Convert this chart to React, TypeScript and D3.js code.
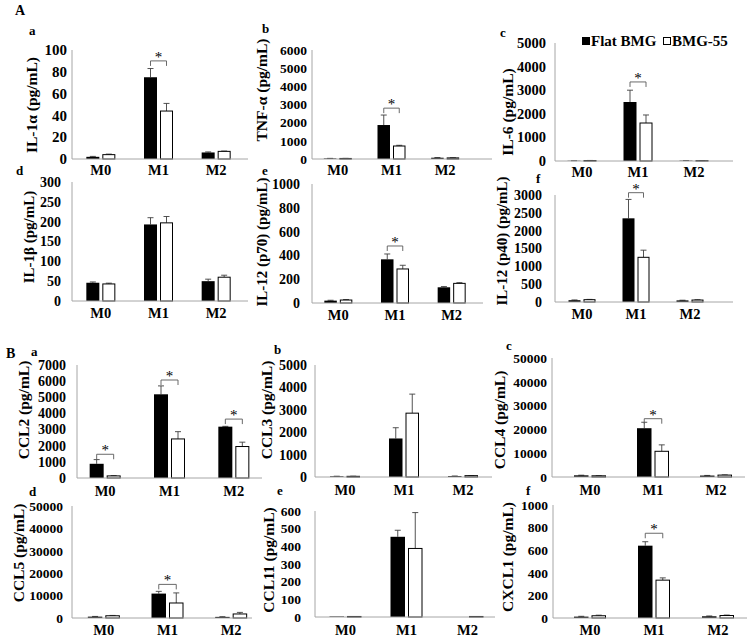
import React from "react";
import * as d3 from "d3";

const categories = ["M0", "M1", "M2"];
const seriesNames = ["Flat BMG", "BMG-55"];

// Panel A
const il1aFlat = [2, 75, 6];
const il1aFlatSd = [0.4, 8, 0.5];
const il1a55 = [4, 44, 7];
const il1a55Sd = [0.5, 7, 0.3];

const tnfFlat = [30, 1870, 70];
const tnfFlatSd = [5, 550, 10];
const tnf55 = [30, 715, 60];
const tnf55Sd = [5, 40, 10];

const il6Flat = [10, 2500, 15];
const il6FlatSd = [2, 500, 3];
const il655 = [20, 1610, 15];
const il655Sd = [3, 340, 3];

const il1bFlat = [46, 193, 50];
const il1bFlatSd = [2, 17, 5];
const il1b55 = [43, 197, 60];
const il1b55Sd = [2, 16, 5];

const il12p70Flat = [20, 367, 132];
const il12p70FlatSd = [3, 45, 6];
const il12p7055 = [25, 286, 165];
const il12p7055Sd = [4, 31, 6];

const il12p40Flat = [50, 2346, 45];
const il12p40FlatSd = [8, 530, 5];
const il12p4055 = [65, 1253, 55];
const il12p4055Sd = [8, 200, 8];

// Panel B
const ccl2Flat = [880, 5185, 3180];
const ccl2FlatSd = [260, 520, 20];
const ccl255 = [130, 2420, 1950];
const ccl255Sd = [20, 450, 270];

const ccl3Flat = [30, 1720, 40];
const ccl3FlatSd = [5, 480, 5];
const ccl355 = [30, 2850, 60];
const ccl355Sd = [5, 850, 5];

const ccl4Flat = [700, 20500, 600];
const ccl4FlatSd = [60, 2500, 60];
const ccl455 = [500, 10800, 800];
const ccl455Sd = [60, 2700, 80];

const ccl5Flat = [600, 10900, 500];
const ccl5FlatSd = [100, 1000, 80];
const ccl555 = [1000, 6700, 1800];
const ccl555Sd = [150, 4500, 700];

const ccl11Flat = [3, 454, 0];
const ccl11FlatSd = [0, 37, 0];
const ccl1155 = [3, 388, 3];
const ccl1155Sd = [0, 203, 0];

const cxcl1Flat = [12, 640, 15];
const cxcl1FlatSd = [3, 35, 3];
const cxcl155 = [20, 335, 22];
const cxcl155Sd = [5, 20, 4];

// significance brackets: [category index, bracket level in data units]
const il1aSig = [[1, 90]];
const tnfSig = [[1, 2800]];
const il6Sig = [[1, 3350]];
const il1bSig: number[][] = [];
const il12p70Sig = [[1, 479]];
const il12p40Sig = [[1, 3065]];
const ccl2Sig = [[0, 1470], [1, 6070], [2, 3650]];
const ccl3Sig: number[][] = [];
const ccl4Sig = [[1, 24500]];
const ccl5Sig = [[1, 15000]];
const ccl11Sig: number[][] = [];
const cxcl1Sig = [[1, 750]];

type Panel = {
  letter: string;
  letterX: number;
  letterY: number;
  title: string;
  titleX: number;
  titleY: number;
  tfs: number;
  max: number;
  step: number;
  flat: number[];
  flatSd: number[];
  b55: number[];
  b55Sd: number[];
  sig: number[][];
  axisX: number;
  tickGap: number;
  yTop: number;
  yZero: number;
  bandL: number;
  bandR: number;
  xEnd: number;
  barW: number;
  fs: number;
  catY: number;
};

const panels: Panel[] = [
  { letter: "a", letterX: 29, letterY: 35, title: "IL-1α (pg/mL)", titleX: 37, titleY: 105, tfs: 15.5, max: 100, step: 20, flat: il1aFlat, flatSd: il1aFlatSd, b55: il1a55, b55Sd: il1a55Sd, sig: il1aSig, axisX: 72, tickGap: 5, yTop: 50, yZero: 159, bandL: 72, bandR: 245, xEnd: 248, barW: 13, fs: 15, catY: 175 },
  { letter: "b", letterX: 262, letterY: 33, title: "TNF-α (pg/mL)", titleX: 267, titleY: 90, tfs: 15.5, max: 6000, step: 1000, flat: tnfFlat, flatSd: tnfFlatSd, b55: tnf55, b55Sd: tnf55Sd, sig: tnfSig, axisX: 312, tickGap: 5, yTop: 50, yZero: 159, bandL: 311, bandR: 472, xEnd: 492, barW: 12.5, fs: 13.5, catY: 175 },
  { letter: "c", letterX: 500, letterY: 37, title: "IL-6 (pg/mL)", titleX: 513, titleY: 112, tfs: 15.5, max: 5000, step: 1000, flat: il6Flat, flatSd: il6FlatSd, b55: il655, b55Sd: il655Sd, sig: il6Sig, axisX: 555, tickGap: 9, yTop: 43, yZero: 161, bandL: 554, bandR: 722, xEnd: 733, barW: 13, fs: 14.5, catY: 177 },
  { letter: "d", letterX: 16, letterY: 175, title: "IL-1β (pg/mL)", titleX: 34, titleY: 237, tfs: 15, max: 300, step: 50, flat: il1bFlat, flatSd: il1bFlatSd, b55: il1b55, b55Sd: il1b55Sd, sig: il1bSig, axisX: 72, tickGap: 11, yTop: 182, yZero: 301, bandL: 72, bandR: 245, xEnd: 248, barW: 13, fs: 14, catY: 318 },
  { letter: "e", letterX: 262, letterY: 175, title: "IL-12 (p70) (pg/mL)", titleX: 267, titleY: 242, tfs: 15, max: 1000, step: 200, flat: il12p70Flat, flatSd: il12p70FlatSd, b55: il12p7055, b55Sd: il12p7055Sd, sig: il12p70Sig, axisX: 312, tickGap: 12, yTop: 184, yZero: 303, bandL: 310, bandR: 480, xEnd: 483, barW: 12.5, fs: 14, catY: 320 },
  { letter: "f", letterX: 536, letterY: 183, title: "IL-12 (p40) (pg/mL)", titleX: 507, titleY: 241, tfs: 15, max: 3000, step: 500, flat: il12p40Flat, flatSd: il12p40FlatSd, b55: il12p4055, b55Sd: il12p4055Sd, sig: il12p40Sig, axisX: 555, tickGap: 13, yTop: 195, yZero: 302, bandL: 555, bandR: 717, xEnd: 733, barW: 12, fs: 14, catY: 319 },
  { letter: "a", letterX: 31, letterY: 356, title: "CCL2 (pg/mL)", titleX: 29, titleY: 410, tfs: 15.5, max: 7000, step: 1000, flat: ccl2Flat, flatSd: ccl2FlatSd, b55: ccl255, b55Sd: ccl255Sd, sig: ccl2Sig, axisX: 77, tickGap: 11, yTop: 365, yZero: 478, bandL: 73, bandR: 266, xEnd: 262, barW: 14, fs: 14, catY: 496 },
  { letter: "b", letterX: 274, letterY: 354, title: "CCL3 (pg/mL)", titleX: 272, titleY: 410, tfs: 15.5, max: 5000, step: 1000, flat: ccl3Flat, flatSd: ccl3FlatSd, b55: ccl355, b55Sd: ccl355Sd, sig: ccl3Sig, axisX: 315, tickGap: 8, yTop: 365, yZero: 477, bandL: 315.5, bandR: 492.5, xEnd: 492, barW: 13.5, fs: 14, catY: 495 },
  { letter: "c", letterX: 506, letterY: 350, title: "CCL4 (pg/mL)", titleX: 505, titleY: 420, tfs: 15.5, max: 50000, step: 10000, flat: ccl4Flat, flatSd: ccl4FlatSd, b55: ccl455, b55Sd: ccl455Sd, sig: ccl4Sig, axisX: 552, tickGap: 5, yTop: 358, yZero: 477, bandL: 558.5, bandR: 747.5, xEnd: 745, barW: 14.5, fs: 13.5, catY: 495 },
  { letter: "d", letterX: 29, letterY: 496, title: "CCL5 (pg/mL)", titleX: 24, titleY: 553, tfs: 15.5, max: 50000, step: 10000, flat: ccl5Flat, flatSd: ccl5FlatSd, b55: ccl555, b55Sd: ccl555Sd, sig: ccl5Sig, axisX: 72, tickGap: 9, yTop: 506, yZero: 618, bandL: 72, bandR: 263, xEnd: 252, barW: 14.5, fs: 13.5, catY: 635 },
  { letter: "e", letterX: 277, letterY: 495, title: "CCL11 (pg/mL)", titleX: 274, titleY: 560, tfs: 15.5, max: 600, step: 100, flat: ccl11Flat, flatSd: ccl11FlatSd, b55: ccl1155, b55Sd: ccl1155Sd, sig: ccl11Sig, axisX: 315, tickGap: 14, yTop: 511, yZero: 617, bandL: 315, bandR: 498, xEnd: 495, barW: 14.5, fs: 13.5, catY: 635 },
  { letter: "f", letterX: 526, letterY: 495, title: "CXCL1 (pg/mL)", titleX: 513, titleY: 557, tfs: 15.5, max: 1000, step: 200, flat: cxcl1Flat, flatSd: cxcl1FlatSd, b55: cxcl155, b55Sd: cxcl155Sd, sig: cxcl1Sig, axisX: 553, tickGap: 5, yTop: 505, yZero: 618, bandL: 558, bandR: 750, xEnd: 747, barW: 14.5, fs: 13.5, catY: 635 },
];

const FONT = "'Liberation Serif', 'Times New Roman', serif";
const AXIS = "#a6a6a6";

function PanelView({ p }: { p: Panel }) {
  const y = d3.scaleLinear().domain([0, p.max]).range([p.yZero, p.yTop]);
  const x = d3.scaleBand<string>().domain(categories).range([p.bandL, p.bandR]);
  const ticks = d3.range(0, p.max + p.step / 2, p.step);
  const gap = 3;
  const bw = x.bandwidth();
  const capW = 3;
  return (
    <g>
      <text x={p.letterX} y={p.letterY} fontSize={13} fontWeight="bold" fontFamily={FONT}>{p.letter}</text>
      <text
        transform={`translate(${p.titleX},${p.titleY}) rotate(-90)`}
        textAnchor="middle"
        fontSize={p.tfs}
        fontWeight="bold"
        fontFamily={FONT}
      >
        {p.title}
      </text>
      {ticks.map((t) => (
        <text key={t} x={p.axisX - p.tickGap} y={y(t)} dy="0.35em" textAnchor="end" fontSize={p.fs} fontWeight="bold" fontFamily={FONT}>
          {t}
        </text>
      ))}
      <line x1={p.axisX} x2={p.axisX} y1={p.yTop} y2={p.yZero} stroke={AXIS} strokeWidth={1} />
      {categories.map((c, i) => {
        const cx = (x(c) as number) + bw / 2;
        const xb = cx - gap / 2 - p.barW;
        const xw = cx + gap / 2;
        const errs = [
          { x: xb + p.barW / 2, v: p.flat[i], sd: p.flatSd[i] },
          { x: xw + p.barW / 2, v: p.b55[i], sd: p.b55Sd[i] },
        ];
        return (
          <g key={c}>
            {errs.map((e, k) =>
              e.sd > 0 ? (
                <g key={k} stroke="#404040" strokeWidth={0.9}>
                  <line x1={e.x} x2={e.x} y1={y(e.v)} y2={y(e.v + e.sd)} />
                  <line x1={e.x - capW} x2={e.x + capW} y1={y(e.v + e.sd)} y2={y(e.v + e.sd)} />
                </g>
              ) : null
            )}
            <rect x={xb} y={y(p.flat[i])} width={p.barW} height={Math.max(0, p.yZero - y(p.flat[i]))} fill="#000" />
            <rect x={xw + 0.5} y={y(p.b55[i])} width={p.barW - 1} height={Math.max(0, p.yZero - y(p.b55[i]))} fill="#fff" stroke="#000" strokeWidth={1} />
            <text x={cx} y={p.catY} textAnchor="middle" fontSize={14.5} fontWeight="bold" fontFamily={FONT}>
              {c}
            </text>
          </g>
        );
      })}
      <line x1={p.axisX} x2={p.xEnd} y1={p.yZero} y2={p.yZero} stroke={AXIS} strokeWidth={1} />
      {p.sig.map(([ci, lvl], k) => {
        const c = categories[ci];
        const cx = (x(c) as number) + bw / 2;
        const x1 = cx - gap / 2 - p.barW / 2;
        const x2 = cx + gap / 2 + p.barW / 2;
        const yb = y(lvl);
        return (
          <g key={k}>
            <path d={`M${x1},${yb + 5}V${yb}H${x2}V${yb + 5}`} fill="none" stroke="#595959" strokeWidth={0.9} />
            <text x={(x1 + x2) / 2} y={yb + 1} textAnchor="middle" fontSize={15} fontFamily={FONT} fill="#000" stroke="none">*</text>
          </g>
        );
      })}
    </g>
  );
}

export default function App() {
  return (
    <svg width={750} height={641} style={{ position: "absolute", left: 0, top: 0, background: "#fff" }}>
      <rect width={750} height={641} fill="#fff" />
      <text x={15} y={15} fontSize={14} fontWeight="bold" fontFamily={FONT}>A</text>
      <text x={6} y={358} fontSize={14} fontWeight="bold" fontFamily={FONT}>B</text>
      {panels.map((p, i) => (
        <PanelView key={i} p={p} />
      ))}
      <g fontFamily={FONT} fontWeight="bold" fontSize={15}>
        <rect x={582} y={37} width={8} height={8} fill="#000" />
        <text x={591} y={46}>{seriesNames[0]}</text>
        <rect x={663.5} y={37.5} width={7} height={7} fill="#fff" stroke="#000" strokeWidth={1} />
        <text x={672} y={46}>{seriesNames[1]}</text>
      </g>
    </svg>
  );
}
